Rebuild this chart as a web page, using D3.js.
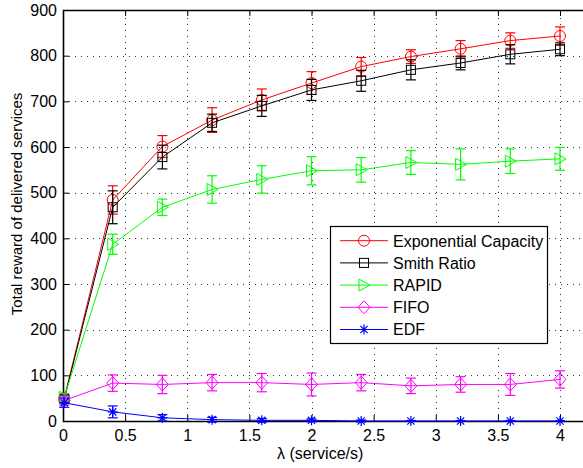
<!DOCTYPE html>
<html>
<head>
<meta charset="utf-8">
<script src="https://cdn.jsdelivr.net/npm/d3@7"></script>
<style>
  body { margin: 0; background: #fff; }
  svg { display: block; font-family: "Liberation Sans", Arial, Helvetica, sans-serif; }
</style>
</head>
<body>
<svg id="chart" width="583" height="468"></svg>
<script>
// valeurs
const lambda = [0.01, 0.4, 0.8, 1.2, 1.6, 2.0, 2.4, 2.8, 3.2, 3.6, 4.0];

const expCap    = [50, 484, 601, 659, 703, 740, 776, 798, 815, 833, 843];
const expCapErr = [8, 31, 24, 27, 24, 25, 20, 15, 18, 17, 20];
const smith     = [48, 468, 578, 653, 690, 725, 745, 769, 784, 803, 814];
const smithErr  = [8, 36, 26, 19, 23, 23, 23, 22, 15, 21, 14];
const rapid     = [52, 387, 468, 507, 529, 548, 550, 566, 562, 569, 574];
const rapidErr  = [8, 22, 18, 30, 30, 31, 27, 26, 34, 27, 25];
const fifo      = [45, 83, 80, 84, 84, 80, 84, 77, 80, 80, 91];
const fifoErr   = [10, 18, 20, 18, 20, 25, 18, 17, 17, 24, 19];
const edf       = [40, 20, 7, 3, 1.5, 1.5, 0, 0, 0, 0, 0];
const edfErr    = [10, 13, 7, 5, 4, 3, 2, 1, 1, 1, 1];

const seriesNames = ["Exponential Capacity", "Smith Ratio", "RAPID", "FIFO", "EDF"];
const xTicks = [0, 0.5, 1, 1.5, 2, 2.5, 3, 3.5, 4];
const yTicks = [0, 100, 200, 300, 400, 500, 600, 700, 800, 900];

const series = [
  { name: seriesNames[0], values: expCap, err: expCapErr, color: "#ff0000", marker: "circle" },
  { name: seriesNames[1], values: smith,  err: smithErr,  color: "#000000", marker: "square" },
  { name: seriesNames[2], values: rapid,  err: rapidErr,  color: "#00ff00", marker: "triangle" },
  { name: seriesNames[3], values: fifo,   err: fifoErr,   color: "#ff00ff", marker: "diamond" },
  { name: seriesNames[4], values: edf,    err: edfErr,    color: "#0000ff", marker: "star" }
];

const svg = d3.select("#chart");
const mLeft = 63, mTop = 10, mBottom = 421;

const x = d3.scaleLinear().domain([0, 4]).range([mLeft, 560]);
const mRight = x(4.2);
const y = d3.scaleLinear().domain([0, 900]).range([mBottom, mTop]);

// grille pointillée
const grid = svg.append("g").attr("stroke", "#333").attr("stroke-width", 1)
  .attr("stroke-dasharray", "1,5").attr("fill", "none");
grid.selectAll(".gx").data(xTicks.slice(1)).enter().append("line")
  .attr("x1", d => Math.round(x(d)) + 0.5).attr("x2", d => Math.round(x(d)) + 0.5)
  .attr("y1", mBottom).attr("y2", mTop);
grid.selectAll(".gy").data(yTicks.slice(1, -1)).enter().append("line")
  .attr("y1", d => Math.round(y(d)) + 0.5).attr("y2", d => Math.round(y(d)) + 0.5)
  .attr("x1", mLeft).attr("x2", mRight);

// axes
const axisBottom = d3.axisBottom(x).tickValues(xTicks).tickSize(-6).tickPadding(9)
  .tickFormat(d3.format("~g"));
const axisLeft = d3.axisLeft(y).tickValues(yTicks).tickSize(-6).tickPadding(6);
const axisTop = d3.axisTop(x).tickValues(xTicks).tickSize(-6).tickFormat("");

const gx = svg.append("g").attr("transform", `translate(0,${mBottom})`).call(axisBottom);
const gy = svg.append("g").attr("transform", `translate(${mLeft},0)`).call(axisLeft);
const gt = svg.append("g").attr("transform", `translate(0,${mTop})`).call(axisTop);
[gx, gy, gt].forEach(g => {
  g.select(".domain").remove();
  g.selectAll("text").attr("font-size", 16).attr("fill", "#000")
    .attr("font-family", "'Liberation Sans', Arial, sans-serif");
  g.selectAll("line").attr("stroke", "#000");
});

// cadre
svg.append("path")
  .attr("d", `M${mRight},${mTop + 0.5}H${mLeft + 0.5}V${mBottom + 0.5}H${mRight}`)
  .attr("fill", "none").attr("stroke", "#000").attr("stroke-width", 1.6);

// titres des axes
svg.append("text").attr("x", x(2.07)).attr("y", 459).attr("text-anchor", "middle")
  .attr("font-size", 16).text("λ (service/s)");
svg.append("text").attr("transform", "translate(22,204) rotate(-90)")
  .attr("text-anchor", "middle").attr("font-size", 15)
  .text("Total reward of delivered services");

function drawMarker(g, kind, color) {
  if (kind === "circle") {
    g.append("circle").attr("r", 5.5).attr("fill", "none").attr("stroke", color);
  } else if (kind === "square") {
    g.append("rect").attr("x", -4.5).attr("y", -4.5).attr("width", 9).attr("height", 9)
      .attr("fill", "none").attr("stroke", color);
  } else if (kind === "triangle") {
    g.append("path").attr("d", "M-5,-6L6,0L-5,6Z").attr("fill", "none").attr("stroke", color);
  } else if (kind === "diamond") {
    g.append("path").attr("d", "M0,-6.5L6,0L0,6.5L-6,0Z").attr("fill", "none").attr("stroke", color);
  } else if (kind === "star") {
    g.append("path").attr("d", "M-5,0H5M0,-5V5M-3.6,-3.6L3.6,3.6M-3.6,3.6L3.6,-3.6")
      .attr("fill", "none").attr("stroke", color).attr("stroke-width", 1.2);
  }
}

const line = d3.line().x(d => x(d[0])).y(d => y(d[1]));
const plot = svg.append("g");

series.forEach(s => {
  const pts = lambda.map((l, i) => [l, s.values[i], s.err[i]]);
  const g = plot.append("g");
  g.append("path").datum(pts).attr("d", line)
    .attr("fill", "none").attr("stroke", s.color).attr("stroke-width", 1);
  // barres d'erreur
  const eb = g.selectAll(".eb").data(pts).enter().append("g")
    .attr("stroke", s.color).attr("stroke-width", 1.2).attr("fill", "none");
  eb.append("line").attr("x1", d => x(d[0])).attr("x2", d => x(d[0]))
    .attr("y1", d => y(d[1] - d[2])).attr("y2", d => y(d[1] + d[2]));
  eb.append("line").attr("x1", d => x(d[0]) - 5).attr("x2", d => x(d[0]) + 5)
    .attr("y1", d => y(d[1] + d[2])).attr("y2", d => y(d[1] + d[2]));
  eb.append("line").attr("x1", d => x(d[0]) - 5).attr("x2", d => x(d[0]) + 5)
    .attr("y1", d => y(d[1] - d[2])).attr("y2", d => y(d[1] - d[2]));
  pts.forEach(d => {
    const m = g.append("g").attr("transform", `translate(${x(d[0])},${y(d[1])})`);
    drawMarker(m, s.marker, s.color);
  });
});

// légende
const lg = svg.append("g");
lg.append("rect").attr("x", 330.5).attr("y", 226.5).attr("width", 217).attr("height", 117)
  .attr("fill", "#fff").attr("stroke", "#000").attr("stroke-width", 1.2);
series.forEach((s, i) => {
  const yy = 240.7 + i * 22.2;
  lg.append("line").attr("x1", 340).attr("x2", 388).attr("y1", yy).attr("y2", yy)
    .attr("stroke", s.color).attr("stroke-width", 1);
  const m = lg.append("g").attr("transform", `translate(364,${yy})`);
  drawMarker(m, s.marker, s.color);
  lg.append("text").attr("x", 393).attr("y", yy + 5.8).attr("font-size", 16).text(s.name);
});
</script>
</body>
</html>
